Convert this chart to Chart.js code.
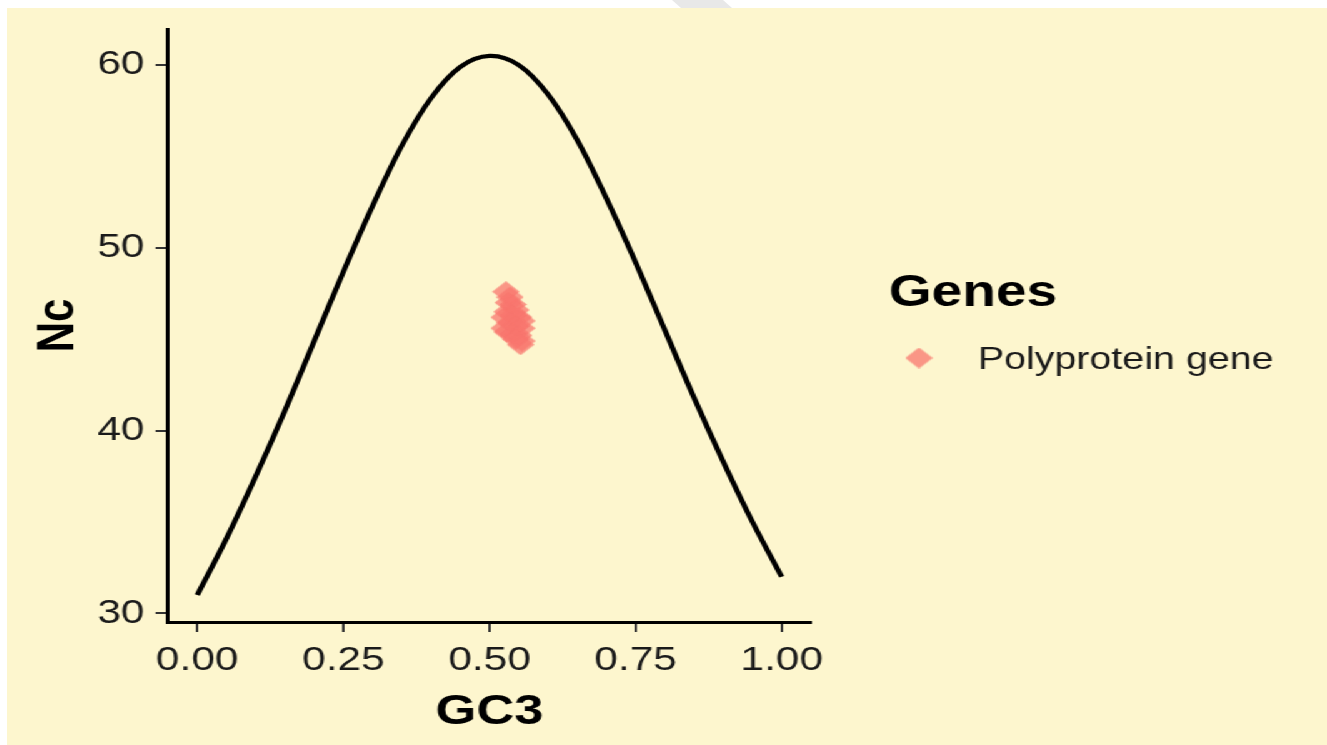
<!DOCTYPE html>
<html>
<head>
<meta charset="utf-8">
<script src="https://cdn.jsdelivr.net/npm/chart.js@4/dist/chart.umd.min.js"></script>
<style>
  html, body { margin: 0; padding: 0; background: #ffffff; width: 1327px; height: 745px; overflow: hidden; }
  #panel {
    position: absolute; left: 7px; top: 8px;
    width: 1056px; height: 737px;
    background: #FDF6CE;
    transform: scaleX(1.25); transform-origin: 0 0;
  }
  #mark {
    position: absolute; left: 0; top: 0; width: 1327px; height: 8px;
    background: #E8E8E8;
    clip-path: polygon(672px 0, 723px 0, 732px 8px, 681px 8px);
  }
</style>
</head>
<body>
<div id="mark"></div>
<div id="panel"><canvas id="enc" width="1056" height="737"></canvas></div>
<script>
// Expected Nc curve (GC3 vs Nc)
const curveGC3 = [0.00, 0.05, 0.10, 0.15, 0.20, 0.25, 0.30, 0.35, 0.40, 0.45, 0.50,
                  0.55, 0.60, 0.65, 0.70, 0.75, 0.80, 0.85, 0.90, 0.95, 1.00];
const curveNc  = [31.0, 34.1, 37.5, 41.1, 44.9, 48.7, 52.3, 55.6, 58.2, 59.9, 60.5,
                  60.0, 58.4, 55.9, 52.7, 49.2, 45.5, 41.8, 38.3, 35.0, 32.0];

// Observed genes
const geneLabel = 'Polyprotein gene';
const legendTitle = 'Genes';
const geneGC3 = [0.528, 0.535, 0.532, 0.540, 0.545, 0.530, 0.525, 0.540, 0.550, 0.555,
                 0.535, 0.545, 0.525, 0.555, 0.530, 0.540, 0.550, 0.545, 0.555, 0.553];
const geneNc  = [47.6, 47.3, 47.0, 46.9, 46.6, 46.5, 46.2, 46.3, 46.2, 46.0,
                 45.9, 45.7, 45.6, 45.6, 45.4, 45.3, 45.2, 45.0, 44.9, 44.7];

// Axis ticks
const xTickValues = [0, 0.25, 0.5, 0.75, 1];
const yTickValues = [30, 40, 50, 60];

const FONT = '"Liberation Sans", Arial, sans-serif';
const POINT_COLOR = 'rgba(248,118,109,0.75)';

// filled diamond marker
function makeDiamond(w, h, color) {
  const c = document.createElement('canvas');
  c.width = w; c.height = h;
  const g = c.getContext('2d');
  g.fillStyle = color;
  g.beginPath();
  g.moveTo(w / 2, 0); g.lineTo(w, h / 2); g.lineTo(w / 2, h); g.lineTo(0, h / 2);
  g.closePath(); g.fill();
  return c;
}
const diamond = makeDiamond(22, 21, POINT_COLOR);

const curveData = curveGC3.map((x, i) => ({ x, y: curveNc[i] }));
const geneData = geneGC3.map((x, i) => ({ x, y: geneNc[i] }));

const legendPlugin = {
  id: 'genesLegend',
  afterDraw(chart) {
    const ctx = chart.ctx;
    const ds = chart.data.datasets[1];
    ctx.save();
    ctx.textBaseline = 'middle';
    ctx.textAlign = 'left';
    ctx.fillStyle = '#000';
    ctx.font = 'bold 44px ' + FONT;
    ctx.fillText(legendTitle, 705.6, 286);
    ctx.drawImage(ds.pointStyle, 729.6 - 11, 350 - 10.5);
    ctx.fillStyle = '#1a1a1a';
    ctx.font = '31.5px ' + FONT;
    ctx.fillText(ds.label, 776.8, 352);
    ctx.restore();
  }
};

new Chart(document.getElementById('enc'), {
  type: 'scatter',
  data: {
    datasets: [
      {
        label: 'Expected Nc',
        data: curveData,
        showLine: true,
        borderColor: '#000',
        borderWidth: 4.3,
        pointRadius: 0,
        tension: 0.35,
        fill: false
      },
      {
        label: geneLabel,
        data: geneData,
        pointStyle: diamond,
        pointRadius: 11,
        backgroundColor: POINT_COLOR,
        borderWidth: 0
      }
    ]
  },
  options: {
    responsive: false,
    animation: false,
    layout: { padding: { top: 21, right: 412.8, left: 0, bottom: 0 } },
    plugins: { legend: { display: false }, tooltip: { enabled: false } },
    scales: {
      x: {
        type: 'linear',
        min: -0.05, max: 1.05,
        afterFit(scale) { scale.height = 123; scale.paddingLeft = 0; scale.paddingRight = 0; },
        afterBuildTicks(scale) { scale.ticks = xTickValues.map(v => ({ value: v })); },
        ticks: {
          callback: v => Number(v).toFixed(2),
          color: '#1a1a1a',
          font: { family: FONT, size: 34 },
          padding: 8.6,
          maxRotation: 0,
          autoSkip: false
        },
        grid: { drawOnChartArea: false, drawTicks: true, tickLength: 10, color: '#333', lineWidth: 2 },
        border: { display: true, color: '#000', width: 3 },
        title: {
          display: true, text: 'GC3', color: '#000',
          font: { family: FONT, size: 42, weight: 'bold' },
          padding: { top: 0, bottom: 7 }
        }
      },
      y: {
        type: 'linear',
        min: 29.525, max: 61.975,
        afterFit(scale) { scale.width = 128.8; scale.paddingTop = 0; scale.paddingBottom = 0; },
        afterBuildTicks(scale) { scale.ticks = yTickValues.map(v => ({ value: v })); },
        ticks: {
          callback: v => String(v),
          color: '#1a1a1a',
          font: { family: FONT, size: 34 },
          padding: 8.8,
          autoSkip: false
        },
        grid: { drawOnChartArea: false, drawTicks: true, tickLength: 10, color: '#333', lineWidth: 2 },
        border: { display: true, color: '#000', width: 3 },
        title: {
          display: true, text: 'Nc', color: '#000',
          font: { family: FONT, size: 42, weight: 'bold' },
          padding: { top: 16.4, bottom: 0 }
        }
      }
    }
  },
  plugins: [legendPlugin]
});
</script>
</body>
</html>
